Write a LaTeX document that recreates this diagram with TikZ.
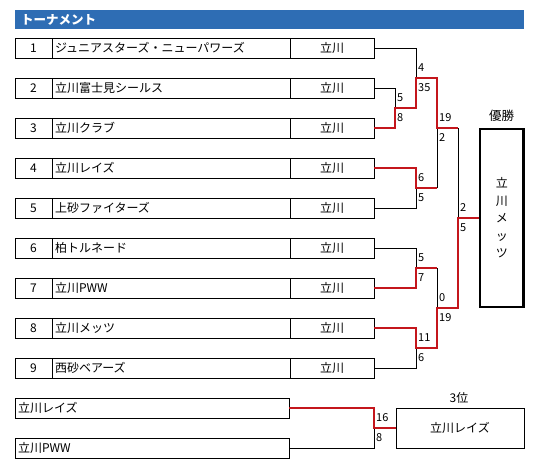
\documentclass[tikz,border=0pt]{standalone}
\usepackage{fontspec}
\setmainfont{Noto Sans CJK JP}
\usepackage{tikz}

\definecolor{barblue}{RGB}{46,109,180}
\definecolor{winred}{RGB}{196,22,28}

\tikzset{
  cell/.style={draw,line width=0.8pt,minimum height=20pt,inner sep=0pt,outer sep=0pt,
    font=\fontsize{12pt}{14pt}\selectfont},
  numcell/.style={cell,minimum width=37pt},
  namecell/.style={cell,anchor=west,text width=232pt,inner xsep=3pt,align=left},
  clubcell/.style={cell,anchor=west,minimum width=84pt},
  loseline/.style={black,line width=0.8pt},
  winline/.style={winred,line width=2.3pt},
  score/.style={font=\fontsize{11pt}{12pt}\selectfont,anchor=west,inner sep=0.5pt},
}

\begin{document}
\begin{tikzpicture}[x=1pt,y=-1pt]
  \useasboundingbox (0,0) rectangle (540,469);
  % ---------------- title bar ----------------
  \node[fill=barblue,anchor=north west,minimum height=19pt,text width=497pt,inner xsep=6pt,
    inner ysep=0pt,align=left,text=white,font=\bfseries\fontsize{12.5pt}{14pt}\selectfont]
    (title) at (15,10) {トーナメント};

  % ---------------- entry rows ----------------
  \foreach \i/\lab in {1/ジュニアスターズ・ニューパワーズ,2/立川富士見シールス,3/立川クラブ,
      4/立川レイズ,5/上砂ファイターズ,6/柏トルネード,7/立川PWW,8/立川メッツ,9/西砂ベアーズ}
    {\node[numcell] (num\i) at (33.5,8+40*\i) {\i};
     \node[namecell] (name\i) at (num\i.east) {\lab};
     \node[clubcell] (club\i) at (name\i.east) {立川};}

  % ---------------- junctions ----------------
  \coordinate (j23) at (395,108);
  \coordinate (j123) at (416,78);
  \coordinate (j45) at (416,188);
  \coordinate (jA) at (437,128);
  \coordinate (j67) at (416,268);
  \coordinate (j89) at (416,348);
  \coordinate (jB) at (437,308);
  \coordinate (jF) at (458,218);
  \coordinate (j3) at (374,428);

  % ---------------- champion ----------------
  \node[draw,line width=2.4pt,minimum width=43.5pt,minimum height=178pt,inner sep=0pt,
    align=center,font=\fontsize{12pt}{17.5pt}\selectfont]
    (champ) at (501.75,218) {立\\川\\メ\\ッ\\ツ};
  \node[font=\fontsize{12.5pt}{14pt}\selectfont] (champlab) at (501.5,116) {優勝};

  % ---------------- 3rd place ----------------
  \node[cell,text width=268pt,inner xsep=3pt,align=left] (tA) at (152,408) {立川レイズ};
  \node[cell,text width=268pt,inner xsep=3pt,align=left] (tB) at (152,448) {立川PWW};
  \node[cell,minimum width=128pt,minimum height=40pt] (third) at (460,428) {立川レイズ};
  \node[font=\fontsize{12pt}{14pt}\selectfont] (thirdlab) at (459,398) {3位};

  % ---------------- losers ----------------
  \draw[loseline] (club1.east) -| (j123);
  \draw[loseline] (club2.east) -| (j23);
  \draw[loseline] (club5.east) -| (j45);
  \draw[loseline] (club6.east) -| (j67);
  \draw[loseline] (club9.east) -| (j89);
  \draw[loseline] (j45 -| jA) -- (jA);
  \draw[loseline] (j67 -| jB) -- (jB);
  \draw[loseline] (jA -| jF) -- (jF);
  \draw[loseline] (tB.east) -| (j3);

  % ---------------- winners ----------------
  \draw[winline] (club3.east) -| (j23) -| (j123) -| (jA) -- (jA -| jF);
  \draw[winline] (club4.east) -| (j45) -- (j45 -| jA);
  \draw[winline] (club7.east) -| (j67) -- (j67 -| jB);
  \draw[winline] (club8.east) -| (j89) -| (jB) -| (jF) -- (champ.west);
  \draw[winline] (tA.east) -| (j3) -- (third.west);

  % ---------------- scores ----------------
  \foreach \j/\up/\dn in {j23/5/8,j123/4/35,jA/19/2,j45/6/5,jF/2/5,j67/5/7,j89/11/6,jB/0/19,j3/16/8}
    {\node[score] (\j up) at ([shift={(1.5pt,10pt)}]\j) {\up};
     \node[score] (\j dn) at ([shift={(1.5pt,-10pt)}]\j) {\dn};}
\end{tikzpicture}
\end{document}
